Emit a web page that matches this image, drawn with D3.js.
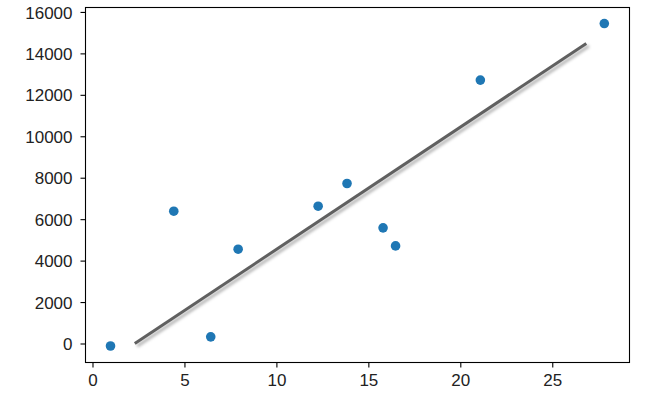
<!DOCTYPE html>
<html>
<head>
<meta charset="utf-8">
<script src="https://cdn.jsdelivr.net/npm/d3@7"></script>
<style>
  html, body { margin: 0; padding: 0; background: #fff; }
  svg { display: block; }
  .tick text { font-family: "Liberation Sans", Arial, sans-serif; font-size: 17px; fill: #222; }
</style>
</head>
<body>
<svg id="chart" width="653" height="402"></svg>
<script>
// Scatter data
const xValues = [0.98, 4.42, 6.43, 7.92, 12.27, 13.84, 15.8, 16.48, 21.09, 27.83];
const yValues = [-120, 6385, 320, 4550, 6625, 7720, 5580, 4710, 12710, 15440];
// Fitted line endpoints
const lineX = [2.3, 26.85];
const lineY = [0, 14480];
// Ticks
const xTicks = [0, 5, 10, 15, 20, 25];
const yTicks = [0, 2000, 4000, 6000, 8000, 10000, 12000, 14000, 16000];

const mLeft = 85.5, mRight = 629.5, mTop = 7.5, mBottom = 362.5;

const svg = d3.select("#chart");

const xScale = d3.scaleLinear().domain([-0.38, 29.2]).range([mLeft, mRight]);
const yScale = d3.scaleLinear().domain([-917, 16214]).range([mBottom, mTop]);

const defs = svg.append("defs");
const f = defs.append("filter").attr("id", "blur").attr("x", "-10%").attr("y", "-10%").attr("width", "120%").attr("height", "120%");
f.append("feGaussianBlur").attr("stdDeviation", 1.6);

const clip = defs.append("clipPath").attr("id", "clip");
clip.append("rect").attr("x", mLeft).attr("y", mTop).attr("width", mRight - mLeft).attr("height", mBottom - mTop);

const g = svg.append("g").attr("clip-path", "url(#clip)");

// Points
g.selectAll("circle.pt")
  .data(xValues.map((d, i) => [d, yValues[i]]))
  .join("circle")
  .attr("class", "pt")
  .attr("cx", d => xScale(d[0]))
  .attr("cy", d => yScale(d[1]))
  .attr("r", 4.8)
  .attr("fill", "#1f77b4");

// Line with shadow
const lineData = lineX.map((d, i) => [d, lineY[i]]);
const lineGen = d3.line().x(d => xScale(d[0])).y(d => yScale(d[1]));
g.append("path")
  .attr("d", lineGen(lineData))
  .attr("transform", "translate(2.5,2.5)")
  .attr("fill", "none")
  .attr("stroke", "#000")
  .attr("stroke-opacity", 0.3)
  .attr("stroke-width", 3)
  .attr("filter", "url(#blur)");
g.append("path")
  .attr("d", lineGen(lineData))
  .attr("fill", "none")
  .attr("stroke", "#606060")
  .attr("stroke-width", 3);

// Axes
const xAxis = d3.axisBottom(xScale).tickValues(xTicks).tickSize(5).tickPadding(6).tickFormat(d3.format("d"));
const yAxis = d3.axisLeft(yScale).tickValues(yTicks).tickSize(5).tickPadding(8).tickFormat(d3.format("d"));

const gx = svg.append("g").attr("transform", `translate(0,${mBottom})`).call(xAxis);
const gy = svg.append("g").attr("transform", `translate(${mLeft},0)`).call(yAxis);
[gx, gy].forEach(a => {
  a.select(".domain").remove();
  a.selectAll(".tick line").attr("stroke", "#000").attr("stroke-width", 1.1);
});
gx.selectAll(".tick text").attr("dy", "0.72em");
gy.selectAll(".tick text").attr("dy", "0.36em");

// Frame
svg.append("rect")
  .attr("x", mLeft).attr("y", mTop)
  .attr("width", mRight - mLeft).attr("height", mBottom - mTop)
  .attr("fill", "none").attr("stroke", "#000").attr("stroke-width", 1.1);
</script>
</body>
</html>
